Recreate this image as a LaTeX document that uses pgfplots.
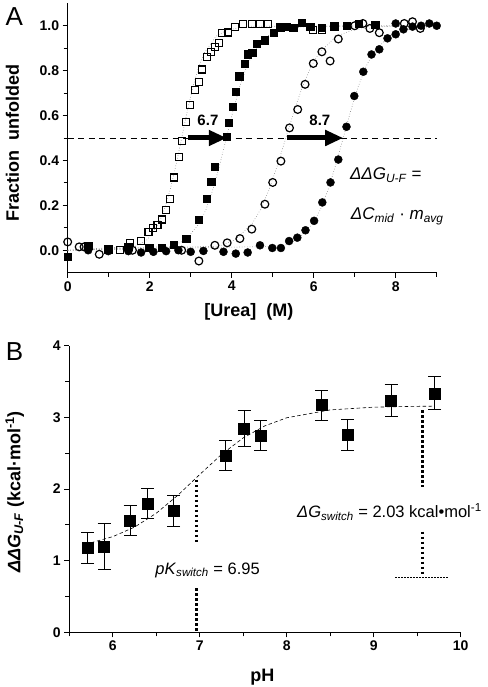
\documentclass[border=0pt]{standalone}
\usepackage{fontspec}
\setmainfont{Liberation Sans}
\usepackage{pgfplots}
\pgfplotsset{compat=1.18}
\usetikzlibrary{arrows.meta}

\begin{document}
\begin{tikzpicture}[x=1pt,y=1pt]
\useasboundingbox (0,0) rectangle (487,687);
\pgfplotsset{
  myaxis/.style={
    scale only axis, clip=false,
    axis x line*=bottom, axis y line*=left,
    tick align=outside, major tick length=5pt, minor tick length=4pt,
    every tick/.style={black, line width=0.8pt},
    axis line style={line width=0.8pt},
    tick label style={font=\bfseries\fontsize{14}{14}\selectfont},
    /pgf/number format/assume math mode=true,
  }
}
% ---------------- Panel A ----------------
\begin{axis}[myaxis,
  at={(67.7pt,414.3pt)}, anchor=south west,
  width=369pt, height=269.4pt,
  xmin=0, xmax=9, ymin=-0.1, ymax=1.1,
  xtick={0,2,4,6,8}, minor xtick={1,3,5,7,9},
  ytick={0,0.2,0.4,0.6,0.8,1.0}, minor ytick={0.1,0.3,0.5,0.7,0.9},
  yticklabel style={/pgf/number format/.cd, fixed, fixed zerofill, precision=1},
  xlabel={[Urea]\ \ (M)}, ylabel={Fraction\ \ unfolded},
  every axis x label/.style={at={(axis description cs:0.491,-0.145)}, anchor=center, font=\bfseries\fontsize{18}{20}\selectfont},
  every axis y label/.style={at={(axis description cs:-0.1496,0.483)}, rotate=90, anchor=center, font=\bfseries\fontsize{18}{20}\selectfont},
]
% fits
\addplot[gray, dotted, line width=0.6pt] coordinates {
 (0,0) (1.66,0.018) (1.94,0.047) (2.22,0.119) (2.36,0.182) (2.50,0.269) (2.64,0.378) (2.78,0.5) (2.92,0.622) (3.06,0.731) (3.20,0.818) (3.34,0.881) (3.62,0.953) (3.90,0.982) (4.46,0.9975) (9,1)};
\addplot[gray, dotted, line width=0.6pt] coordinates {
 (0,0) (2.55,0.018) (2.88,0.047) (3.21,0.119) (3.375,0.182) (3.54,0.269) (3.705,0.378) (3.87,0.5) (4.035,0.622) (4.20,0.731) (4.365,0.818) (4.53,0.881) (4.86,0.953) (5.19,0.982) (5.85,0.9975) (9,1)};
\addplot[gray, dotted, line width=0.6pt] coordinates {
 (0,0) (3.68,0.018) (4.09,0.047) (4.50,0.119) (4.705,0.182) (4.91,0.269) (5.115,0.378) (5.32,0.5) (5.525,0.622) (5.73,0.731) (5.935,0.818) (6.14,0.881) (6.55,0.953) (6.96,0.982) (7.78,0.9975) (9,1)};
\addplot[gray, dotted, line width=0.6pt] coordinates {
 (0,0) (5.24,0.018) (5.61,0.047) (5.98,0.119) (6.165,0.182) (6.35,0.269) (6.535,0.378) (6.72,0.5) (6.905,0.622) (7.09,0.731) (7.275,0.818) (7.46,0.881) (7.83,0.953) (8.2,0.982) (8.94,0.9975) (9,1)};
% dashed half line
\draw[dash pattern=on 6pt off 4.5pt, line width=0.8pt] (axis cs:0,0.5) -- (axis cs:9,0.5);
% filled circles
\addplot[only marks, mark=*, mark size=4pt, mark options={fill=black, draw=black}] coordinates {
 (0.5,0) (0.99,-0.004) (1.48,-0.004) (1.79,-0.01) (2.09,-0.007) (2.4,-0.004) (2.7,0) (3.0,-0.007) (3.31,-0.003) (3.8,-0.007) (4.1,-0.015) (4.39,-0.01) (4.69,0.022) (4.99,0.01) (5.2,0.01) (5.4,0.041) (5.6,0.056) (5.8,0.089) (6.01,0.131) (6.21,0.213) (6.41,0.302) (6.6,0.404) (6.8,0.55) (6.99,0.687) (7.21,0.795) (7.41,0.872) (7.6,0.895) (7.8,0.944) (8.0,0.962) (8.0,1.01) (8.19,0.984) (8.41,0.996) (8.62,1.0) (8.82,1.01) (9.0,1.0)};
% filled squares
\addplot[only marks, mark=square*, mark size=3.7pt, mark options={fill=black, draw=black}] coordinates {
 (0,-0.03) (0.5,0.019) (0.99,0.004) (1.48,0.015) (1.99,0.01) (2.29,0.012) (2.59,0.025) (2.89,0.052) (3.2,0.137) (3.39,0.23) (3.5,0.305) (3.59,0.371) (3.88,0.505) (3.92,0.569) (4.02,0.639) (4.1,0.706) (4.18,0.776) (4.31,0.832) (4.39,0.874) (4.5,0.881) (4.61,0.921) (4.81,0.936) (5.02,0.97) (5.18,0.993) (5.34,0.996) (5.5,0.99) (5.71,1.013) (5.91,0.996) (6.2,0.99) (6.5,0.998) (6.8,1.0) (7.1,1.01) (7.5,1.005)};
% open circles
\addplot[only marks, mark=o, mark size=3.9pt, mark options={fill=white, draw=black, line width=1.2pt}] coordinates {
 (0,0.037) (0.28,0.015) (0.4,0.015) (0.77,-0.018) (1.58,0) (2.78,0) (3.2,-0.048) (3.59,0.022) (3.89,0.033) (4.2,0.052) (4.49,0.094) (4.81,0.205) (5.0,0.302) (5.2,0.397) (5.41,0.545) (5.61,0.627) (5.79,0.739) (5.99,0.832) (6.2,0.884) (6.4,0.843) (6.6,0.941) (7.0,1.0) (7.2,1.01) (7.37,0.988) (7.6,0.969) (8.21,1.01) (8.41,1.018) (8.6,0.988)};
% open squares
\addplot[only marks, mark=square, mark size=3.5pt, mark options={fill=white, draw=black, line width=1.1pt}] coordinates {
 (1.28,0) (1.52,0.033) (1.79,0.041) (1.97,0.083) (2.09,0.1) (2.19,0.113) (2.29,0.137) (2.4,0.178) (2.5,0.227) (2.59,0.324) (2.71,0.416) (2.78,0.486) (2.89,0.572) (2.99,0.646) (3.1,0.713) (3.2,0.75) (3.28,0.805) (3.39,0.862) (3.49,0.884) (3.59,0.906) (3.7,0.924) (3.77,0.966) (3.9,0.97) (4.08,0.996) (4.28,1.006) (4.5,1.006) (4.69,1.006) (4.89,1.006) (5.99,0.98) (6.2,0.98)};
% arrows
\draw[line width=5pt, -{Triangle[length=18pt, width=15pt]}] (axis cs:2.94,0.5) -- (axis cs:3.88,0.5);
\draw[line width=5pt, -{Triangle[length=18pt, width=15pt]}] (axis cs:5.34,0.5) -- (axis cs:6.72,0.5);
\node[font=\bfseries\fontsize{15}{16}\selectfont] at (axis cs:3.42,0.58) {6.7};
\node[font=\bfseries\fontsize{15}{16}\selectfont] at (axis cs:6.15,0.58) {8.7};
\node[anchor=west, font=\fontsize{17}{18}\selectfont] at (axis cs:6.8,0.334) {\textit{ΔΔG}\textsubscript{\textit{U-F}} =};
\node[anchor=west, font=\fontsize{17}{18}\selectfont] at (axis cs:6.82,0.15) {\textit{ΔC}\textsubscript{\textit{mid}} · \textit{m}\textsubscript{\textit{avg}}};
\end{axis}
\node[font=\fontsize{26}{28}\selectfont] at (14.3,670) {A};
% ---------------- Panel B ----------------
\begin{axis}[myaxis,
  at={(69.3pt,54.7pt)}, anchor=south west,
  width=391.4pt, height=286.6pt,
  xmin=5.5, xmax=10, ymin=0, ymax=4,
  xtick={6,7,8,9,10}, minor xtick={5.5,6.5,7.5,8.5,9.5},
  ytick={0,1,2,3,4}, minor ytick={0.5,1.5,2.5,3.5},
  xlabel={pH}, ylabel={\textit{ΔΔG}\textsubscript{\textit{U-F}} (kcal·mol\textsuperscript{-1})},
  every axis x label/.style={at={(axis description cs:0.493,-0.155)}, anchor=center, font=\bfseries\fontsize{18}{20}\selectfont},
  every axis y label/.style={at={(axis description cs:-0.139,0.49)}, rotate=90, anchor=center, font=\bfseries\fontsize{18}{20}\selectfont},
]
\addplot[black, dash pattern=on 3.5pt off 2.5pt, line width=0.6pt] coordinates {
 (5.75,1.250) (6.0,1.335) (6.25,1.468) (6.5,1.662) (6.75,1.915) (7.0,2.203) (7.25,2.482) (7.5,2.714) (7.75,2.882) (8.0,2.994) (8.5,3.104) (9.0,3.142) (9.5,3.154) (9.7,3.156)};
\addplot[only marks, mark=square*, mark size=5.5pt, mark options={fill=black, draw=black},
  error bars/.cd, y dir=both, y explicit,
  error bar style={line width=0.9pt, black},
  error mark options={rotate=90, mark size=6.5pt, line width=0.9pt, black}]
 coordinates {
 (5.71,1.18) +- (0,0.215)
 (5.90,1.195) +- (0,0.32)
 (6.2,1.558) +- (0,0.21)
 (6.40,1.795) +- (0,0.21)
 (6.70,1.693) +- (0,0.21)
 (7.30,2.47) +- (0,0.21)
 (7.51,2.847) +- (0,0.25)
 (7.70,2.744) +- (0,0.21)
 (8.40,3.172) +- (0,0.21)
 (8.70,2.753) +- (0,0.22)
 (9.20,3.233) +- (0,0.22)
 (9.70,3.335) +- (0,0.23)};
\draw[line width=2.5pt, dash pattern=on 2.5pt off 2.5pt] (axis cs:6.965,2.126) -- (axis cs:6.965,1.24);
\draw[line width=2.5pt, dash pattern=on 2.5pt off 2.5pt] (axis cs:6.965,0.614) -- (axis cs:6.965,0);
\draw[line width=2.5pt, dash pattern=on 2.5pt off 2.5pt] (axis cs:9.563,3.10) -- (axis cs:9.563,2.03);
\draw[line width=2.5pt, dash pattern=on 2.5pt off 2.5pt] (axis cs:9.563,1.405) -- (axis cs:9.563,0.777);
\draw[line width=1.2pt, dash pattern=on 1.5pt off 1.5pt] (axis cs:9.25,0.767) -- (axis cs:9.85,0.767);
\node[anchor=west, font=\fontsize{16.5}{18}\selectfont] at (axis cs:6.45,0.87) {\textit{pK}\textsubscript{\textit{switch}} = 6.95};
\node[anchor=west, font=\fontsize{16.5}{18}\selectfont] at (axis cs:8.08,1.68) {\textit{ΔG}\textsubscript{\textit{switch}} = 2.03 kcal•mol\textsuperscript{-1}};
\end{axis}
\node[font=\fontsize{26}{28}\selectfont] at (14.5,335.8) {B};
\end{tikzpicture}
\end{document}
